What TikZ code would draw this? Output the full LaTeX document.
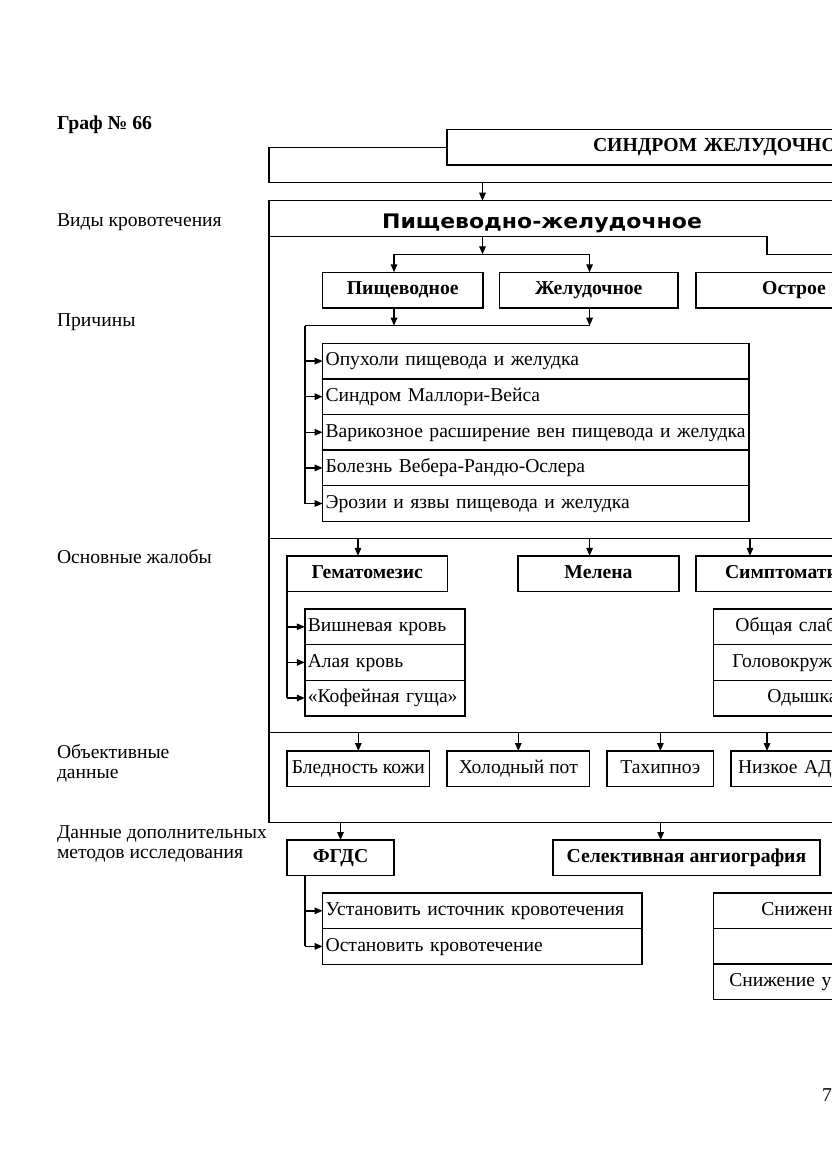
\documentclass[tikz,border=0pt]{standalone}
\usepackage{fontspec}
\setmainfont{Liberation Serif}
\newfontfamily\headfont[FakeStretch=1.1]{DejaVu Sans Bold}
\usetikzlibrary{arrows.meta,positioning}

\begin{document}
\begin{tikzpicture}[x=1pt,y=-1pt,>={Triangle[length=8pt,width=6.5pt]},line width=1.4pt,
    font=\fontsize{19.6}{20}\selectfont]

    \tikzstyle{every node}=[inner sep=0pt, outer sep=0pt]
    \tikzstyle{lbl}=[anchor=base west, align=left]
    \tikzstyle{box}=[draw, fill=white, anchor=north west, minimum height=35.6pt, text height=13.5pt, text depth=4pt]
    \tikzstyle{hbox}=[box, font=\bfseries\fontsize{19.7}{20}\selectfont]
    \tikzstyle{item}=[box, align=left, inner xsep=3pt]
    \tikzstyle{cut}=[align=left, text width=250pt]

    \useasboundingbox (0,0) rectangle (831,1174);

    % left column
    \node[lbl, font=\bfseries\fontsize{19.7}{20}\selectfont] (graf) at (57,130) {Граф № 66};
    \node[lbl] (l1) at (57,227) {Виды кровотечения};
    \node[lbl] (l2) at (57,326) {Причины};
    \node[lbl] (l3) at (57,563) {Основные жалобы};
    \node[lbl] (l4) at (57,778) {Объективные\\данные};
    \node[lbl] (l5) at (57,858.5) {Данные дополнительных\\методов исследования};

    % top frames
    \node[draw, anchor=north west, minimum width=640pt, minimum height=35pt] (ramka) at (269,147.7) {};
    \node[hbox, cut, inner xsep=146pt] (sindrom) at (447,129.3) {СИНДРОМ ЖЕЛУДОЧНО};
    \node[draw, anchor=north west, minimum width=640pt, minimum height=622pt] (vidy) at (269,200.7) {};
    \node[font=\headfont\fontsize{20}{22}\selectfont, anchor=base] (pzh) at (542,228.5) {Пищеводно-желудочное};
    \draw (vidy.north west |- 0,236.3) -- (767,236.3) -- (767,254.3) -- (910,254.3);
    \draw (vidy.north west |- 0,538.5) -- (910,538.5);
    \draw (vidy.north west |- 0,732.7) -- (910,732.7);

    % kinds
    \node[hbox, minimum width=160.3pt] (pisch) at (322.6,272.3) {Пищеводное};
    \node[hbox, minimum width=178.4pt] (zhel) at (499.6,272.3) {Желудочное};
    \node[hbox, minimum width=196pt] (ostr) at (696,272.3) {Острое};

    % causes
    \node[item, text width=420.4pt] (c1) at (322.6,343.3) {Опухоли пищевода и желудка};
    \node[item, text width=420.4pt, below=0pt of c1] (c2) {Синдром Маллори-Вейса};
    \node[item, text width=420.4pt, below=0pt of c2] (c3) {Варикозное расширение вен пищевода и желудка};
    \node[item, text width=420.4pt, below=0pt of c3] (c4) {Болезнь Вебера-Рандю-Ослера};
    \node[item, text width=420.4pt, below=0pt of c4] (c5) {Эрозии и язвы пищевода и желудка};

    \coordinate (t1) at (482.5,236.3);
    \coordinate (j1) at (482.5,254.3);
    \coordinate (k1) at (394,254.3);
    \coordinate (k2) at (589.6,254.3);
    \coordinate (j2) at (305,325.7);

    \draw[->] (ramka.south -| j1) -- (vidy.north -| j1);
    \draw[->] (t1) -- (j1);
    \draw (k1) -- (k2);
    \draw[->] (k1) -- (k1 |- pisch.north);
    \draw[->] (k2) -- (k2 |- zhel.north);
    \draw[->] (k1 |- pisch.south) -- (k1 |- j2);
    \draw[->] (k2 |- zhel.south) -- (k2 |- j2);
    \draw (j2) -- (k2 |- j2);
    \draw (j2) -- (j2 |- c5.west);
    \foreach \c in {c1,c2,c3,c4,c5}
      \draw[->] (j2 |- \c.west) -- (\c.west);

    % complaints
    \node[hbox, minimum width=160.5pt] (gem) at (287,555.8) {Гематомезис};
    \node[hbox, minimum width=161pt] (mel) at (518,555.8) {Мелена};
    \node[hbox, cut, inner xsep=29pt] (simp) at (696,555.8) {Симптомати};

    \coordinate (a1) at (358,538.5);
    \coordinate (a2) at (589.6,538.5);
    \coordinate (a3) at (750,538.5);
    \draw[->] (a1) -- (a1 |- gem.north);
    \draw[->] (a2) -- (a2 |- mel.north);
    \draw[->] (a3) -- (a3 |- simp.north);

    \node[item, text width=154.2pt] (g1) at (304.8,609) {Вишневая кровь};
    \node[item, text width=154.2pt, below=0pt of g1] (g2) {Алая кровь};
    \node[item, text width=154.2pt, below=0pt of g2] (g3) {«Кофейная гуща»};
    \draw (gem.south west) -- (gem.south west |- g3.west);
    \foreach \g in {g1,g2,g3}
      \draw[->] (gem.south west |- \g.west) -- (\g.west);

    \node[item, cut, inner xsep=22pt] (s1) at (713.4,609) {Общая слаб};
    \node[item, cut, inner xsep=19pt] (s2) at (713.4,644.6) {Головокруж};
    \node[item, cut, inner xsep=54pt] (s3) at (713.4,680.2) {Одышка};

    % objective data
    \node[box, minimum width=142.7pt] (bled) at (287,751) {Бледность кожи};
    \node[box, minimum width=142.6pt] (hol) at (447,751) {Холодный пот};
    \node[box, minimum width=106.7pt] (tah) at (607,751) {Тахипноэ};
    \node[box, cut, inner xsep=7pt] (niz) at (731,751) {Низкое АД};

    \coordinate (d2) at (269,732.7);
    \coordinate (b4) at (767,732.7);
    \foreach \b in {bled,hol,tah}
      \draw[->] (\b.north |- d2) -- (\b.north);
    \draw[->] (b4) -- (b4 |- niz.north);

    % additional methods
    \node[hbox, minimum width=107pt] (fgds) at (287,840) {ФГДС};
    \node[hbox, minimum width=267pt] (angio) at (553,840) {Селективная ангиография};
    \coordinate (e2) at (660.7,822.7);
    \draw[->] (vidy.south -| fgds.north) -- (fgds.north);
    \draw[->] (e2) -- (e2 |- angio.north);

    \node[item, text width=313.4pt] (f1) at (322.6,893) {Установить источник кровотечения};
    \node[item, text width=313.4pt, below=0pt of f1] (f2) {Остановить кровотечение};
    \coordinate (j3) at (305,876);
    \draw (j3) -- (j3 |- f2.west);
    \foreach \f in {f1,f2}
      \draw[->] (j3 |- \f.west) -- (\f.west);

    \node[box, cut, inner xsep=48pt] (r1) at (713.4,893) {Сниженн};
    \node[box, minimum width=200pt] (r2) at (713.4,928.5) {};
    \node[box, cut, inner xsep=16pt] (r3) at (713.4,964) {Снижение у};

    \node[lbl] (pg) at (822,1101) {7};
\end{tikzpicture}
\end{document}
